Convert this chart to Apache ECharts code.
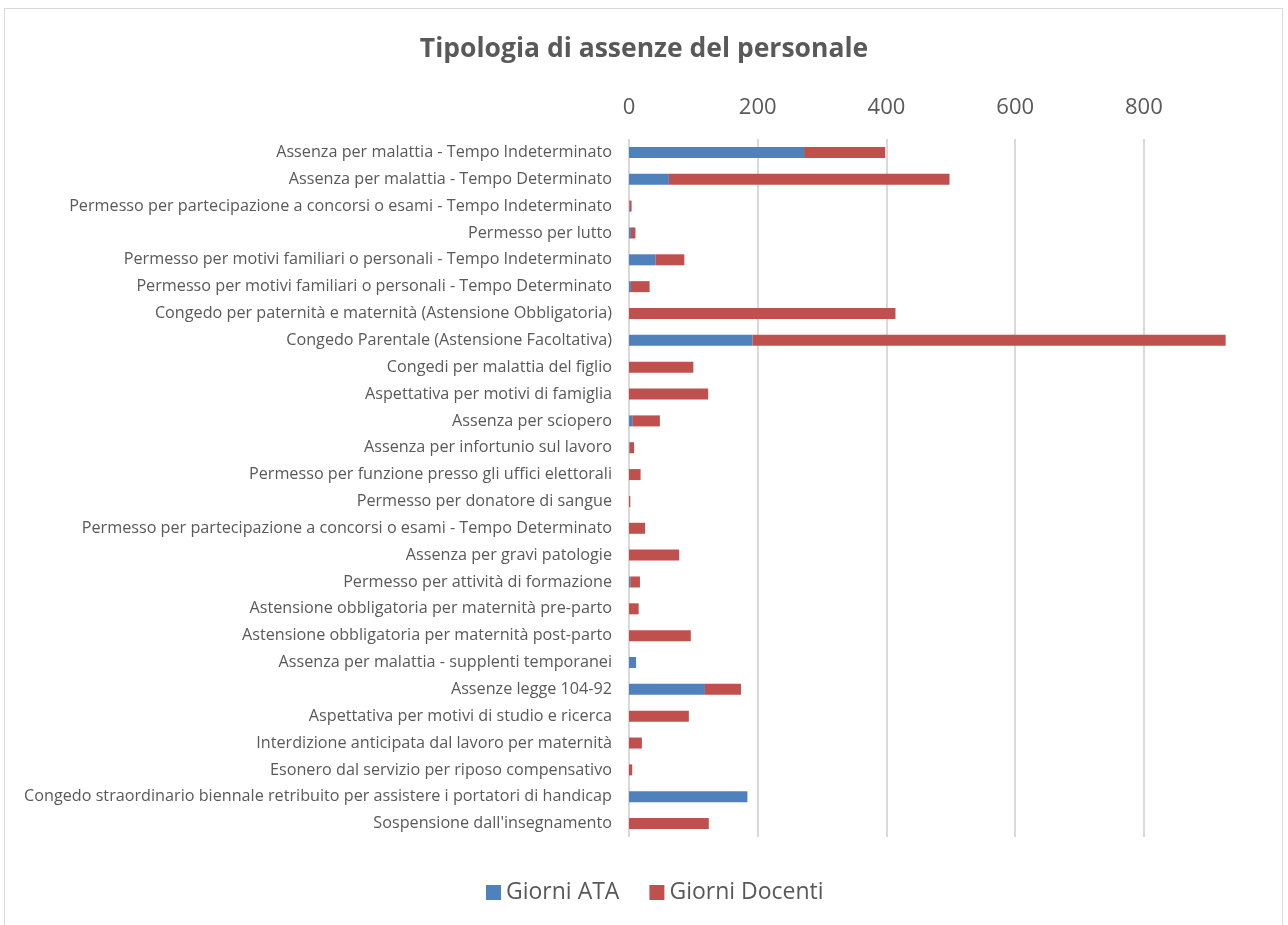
<!DOCTYPE html>
<html>
<head>
<meta charset="utf-8">
<script src="https://cdn.jsdelivr.net/npm/echarts@6/dist/echarts.min.js"></script>
<style>
  html, body { margin: 0; padding: 0; background: #fff; }
  #frame { position: absolute; left: 4px; top: 8px; width: 1277px; height: 940px; border: 1px solid #d9d9d9; }
  #container { position: absolute; left: 0; top: 0; width: 1288px; height: 925px; }
</style>
</head>
<body>
<div id="frame"></div>
<div id="container"></div>
<script>
var categories = [
    'Assenza per malattia - Tempo Indeterminato',
    'Assenza per malattia - Tempo Determinato',
    'Permesso per partecipazione a concorsi o esami - Tempo Indeterminato',
    'Permesso per lutto',
    'Permesso per motivi familiari o personali - Tempo Indeterminato',
    'Permesso per motivi familiari o personali - Tempo Determinato',
    'Congedo per paternità e maternità (Astensione Obbligatoria)',
    'Congedo Parentale (Astensione Facoltativa)',
    'Congedi per malattia del figlio',
    'Aspettativa per motivi di famiglia',
    'Assenza per sciopero',
    'Assenza per infortunio sul lavoro',
    'Permesso per funzione presso gli uffici elettorali',
    'Permesso per donatore di sangue',
    'Permesso per partecipazione a concorsi o esami - Tempo Determinato',
    'Assenza per gravi patologie',
    'Permesso per attività di formazione',
    'Astensione obbligatoria per maternità pre-parto',
    'Astensione obbligatoria per maternità post-parto',
    'Assenza per malattia - supplenti temporanei',
    'Assenze legge 104-92',
    'Aspettativa per motivi di studio e ricerca',
    'Interdizione anticipata dal lavoro per maternità',
    'Esonero dal servizio per riposo compensativo',
    'Congedo straordinario biennale retribuito per assistere i portatori di handicap',
    "Sospensione dall'insegnamento"
];

var giorniATA = [272, 62, 1, 3, 41, 3, 0, 192, 0, 0, 5, 1, 0, 0, 0, 0, 2, 0, 0, 11, 118, 0, 0, 0, 184, 0];
var giorniDocenti = [126, 436, 3, 7, 45, 29, 414, 735, 100, 123, 43, 7, 18, 2, 25, 78, 15, 15, 96, 0, 56, 93, 20, 5, 0, 124];

var tickValues = [0, 200, 400, 600, 800];

var myChart = echarts.init(document.getElementById('container'), null, {
    renderer: 'canvas',
    useDirtyRect: false
});

var font = '"Open Sans", sans-serif';

var option = {
    backgroundColor: 'transparent',
    animation: false,
    textStyle: { fontFamily: font },
    title: {
        text: 'Tipologia di assenze del personale',
        left: 'center',
        top: 31,
        textStyle: { color: '#595959', fontSize: 26.5, fontWeight: 'bold', fontFamily: font }
    },
    legend: {
        bottom: 16,
        left: 481,
        itemWidth: 15,
        itemHeight: 15,
        itemGap: 30,
        icon: 'rect',
        textStyle: { color: '#595959', fontSize: 23, fontFamily: font }
    },
    grid: {
        left: 629,
        right: 54,
        top: 139,
        bottom: 88
    },
    xAxis: {
        type: 'value',
        position: 'top',
        min: 0,
        max: 940,
        interval: 200,
        axisLine: { show: false },
        axisTick: { show: false },
        splitLine: { show: false },
        axisLabel: {
            color: '#595959',
            fontSize: 22,
            margin: 20,
            showMaxLabel: false,
            fontFamily: font
        }
    },
    yAxis: {
        type: 'category',
        inverse: true,
        data: categories,
        axisLine: { show: false },
        axisTick: { show: false },
        axisLabel: {
            color: '#595959',
            fontSize: 16.2,
            margin: 17,
            fontFamily: font
        }
    },
    series: [
        {
            name: 'Giorni ATA',
            type: 'bar',
            stack: 'tot',
            barWidth: 11,
            z: 3,
            itemStyle: { color: '#4f81bd' },
            data: giorniATA,
            markLine: {
                silent: true,
                symbol: 'none',
                z: 1,
                label: { show: false },
                lineStyle: { color: '#d9d9d9', width: 2, type: 'solid' },
                data: tickValues.map(function (v) { return { xAxis: v }; })
            }
        },
        {
            name: 'Giorni Docenti',
            type: 'bar',
            stack: 'tot',
            barWidth: 11,
            z: 3,
            itemStyle: { color: '#c0504d' },
            data: giorniDocenti
        }
    ]
};

if (option && typeof option === 'object') {
    myChart.setOption(option);
}

window.addEventListener('resize', myChart.resize);
</script>
</body>
</html>
